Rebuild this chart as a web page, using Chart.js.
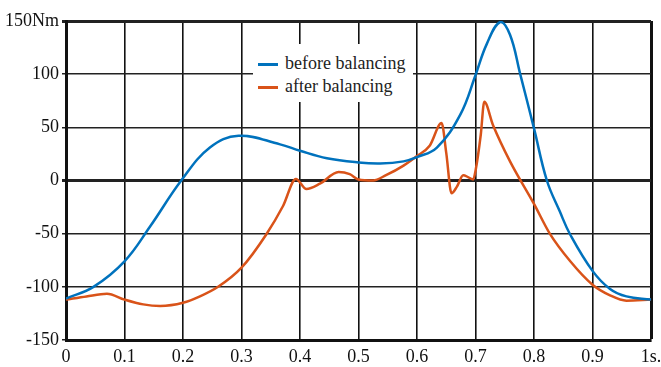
<!DOCTYPE html>
<html>
<head>
<meta charset="utf-8">
<script src="https://cdn.jsdelivr.net/npm/chart.js@4.4.1/dist/chart.umd.min.js"></script>
<style>
  html, body { margin: 0; padding: 0; background: #fff; }
  #wrap { position: relative; width: 661px; height: 367px; }
  #leyenda {
    position: absolute; left: 253px; top: 44px; width: 160px; height: 58px;
    background: #fff; font-family: "Liberation Serif", "Times New Roman", "DejaVu Serif", serif; font-size: 18px; color: #222;
  }
  .fila { position: absolute; left: 5px; height: 20px; line-height: 20px; white-space: nowrap; }
  .fila span { display: inline-block; width: 20px; height: 3px; vertical-align: middle; margin-right: 7px; }
</style>
</head>
<body>
<div id="wrap">
  <canvas id="myChart" width="661" height="367"></canvas>
  <div id="leyenda">
    <div class="fila" style="top:9px"><span style="background:#0072bd"></span>before balancing</div>
    <div class="fila" style="top:32px"><span style="background:#d95319"></span>after balancing</div>
  </div>
</div>
<script>
// DATOS
const tiempoAntes = [0, 0.047, 0.1, 0.144, 0.197, 0.246, 0.295, 0.366, 0.4, 0.446, 0.5, 0.537, 0.577, 0.6, 0.634, 0.674, 0.7, 0.719, 0.742, 0.759, 0.776, 0.8, 0.822, 0.844, 0.862, 0.9, 0.93, 0.958, 1.0];
const torqueAntes = [-111, -100, -76, -43, 0, 31, 42, 34, 28, 21, 17, 16, 18, 22, 31, 62, 99, 128, 149, 137, 101, 49, 0, -29, -51, -85, -102, -109, -112];

const tiempoDespues = [0, 0.035, 0.07, 0.1, 0.132, 0.161, 0.2, 0.229, 0.26, 0.3, 0.342, 0.371, 0.393, 0.411, 0.434, 0.466, 0.485, 0.5, 0.525, 0.547, 0.577, 0.6, 0.622, 0.642, 0.65, 0.659, 0.668, 0.679, 0.688, 0.696, 0.7, 0.709, 0.715, 0.73, 0.759, 0.8, 0.827, 0.862, 0.9, 0.93, 0.958, 1.0];
const torqueDespues = [-112, -109, -106.5, -112, -116.5, -118, -115, -109, -100, -82, -51, -24, 1.5, -8, -3, 8, 6, 1, 0, 5, 14, 23, 33, 54, 26, -12, -6, 5, 3, 1, 9, 43, 74, 52, 18, -22, -50, -76, -98, -108, -113, -112];

const etiquetasX = ["0", "0.1", "0.2", "0.3", "0.4", "0.5", "0.6", "0.7", "0.8", "0.9", "1s."];
const etiquetasY = { 150: "150Nm", 100: "100", 50: "50", 0: "0", "-50": "-50", "-100": "-100", "-150": "-150" };

// la curva azul es suave, la naranja tiene picos agudos
const series = [
  { label: "before balancing", t: tiempoAntes, v: torqueAntes, color: "#0072bd", suave: true },
  { label: "after balancing", t: tiempoDespues, v: torqueDespues, color: "#d95319", suave: false },
];

const fuente = { family: "'Liberation Serif', 'Times New Roman', 'DejaVu Serif', serif", size: 18 };

new Chart(document.getElementById("myChart").getContext("2d"), {
  type: "line",
  data: {
    datasets: series.map((s) => ({
      label: s.label,
      data: s.t.map((t, i) => ({ x: t, y: s.v[i] })),
      borderColor: s.color,
      borderWidth: 2.5,
      pointRadius: 0,
      fill: false,
      tension: s.suave ? 0.4 : 0,
      cubicInterpolationMode: s.suave ? "default" : "monotone",
    })),
  },
  options: {
    responsive: false,
    animation: false,
    layout: { padding: { top: 21, right: 10, left: 0, bottom: 0 } },
    plugins: { legend: { display: false }, tooltip: { enabled: false } },
    scales: {
      x: {
        type: "linear",
        min: 0,
        max: 1,
        // alto fijo y sin relleno extra para que el area llegue a x=651
        afterFit: (scale) => {
          scale.height = 27;
          scale.paddingLeft = 0;
          scale.paddingRight = 0;
        },
        ticks: {
          stepSize: 0.1,
          color: "#111",
          font: fuente,
          padding: 6,
          maxRotation: 0,
          callback: (v) => etiquetasX[Math.round(v * 10)],
        },
        grid: {
          color: "#111",
          drawTicks: false,
          lineWidth: (ctx) => (ctx.index === 10 ? 3 : 1.6),
        },
        border: { color: "#111", width: 3 },
      },
      y: {
        min: -150,
        max: 150,
        afterFit: (scale) => { scale.width = 66; },
        ticks: {
          stepSize: 50,
          color: "#111",
          font: fuente,
          padding: 3,
          callback: (v) => etiquetasY[v],
        },
        grid: {
          color: "#222",
          tickLength: 4,
          lineWidth: (ctx) => {
            const val = ctx.tick ? ctx.tick.value : null;
            return val === 0 || val === 150 ? 3 : 1.5;
          },
        },
        border: { color: "#111", width: 3 },
      },
    },
  },
});
</script>
</body>
</html>
